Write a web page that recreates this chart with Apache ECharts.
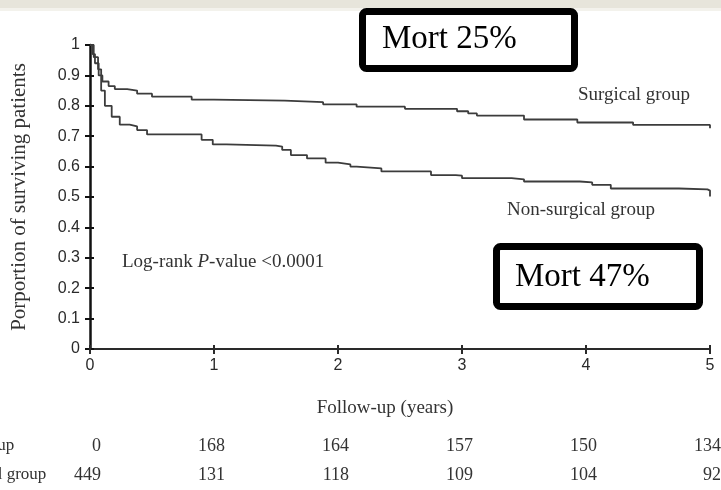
<!DOCTYPE html>
<html>
<head>
<meta charset="utf-8">
<script src="https://cdn.jsdelivr.net/npm/echarts@6/dist/echarts.min.js"></script>
<style>
  html, body { margin: 0; padding: 0; background: #ffffff; }
  #chart { width: 721px; height: 490px; }
</style>
</head>
<body>
<div id="chart"></div>
<script>
// Kaplan–Meier survival estimates: [follow-up in years, proportion surviving]
const surgicalCurve = [
  [0, 1.0], [0.02, 0.97], [0.04, 0.94], [0.07, 0.90], [0.10, 0.88],
  [0.15, 0.865], [0.20, 0.855], [0.30, 0.85], [0.38, 0.84], [0.50, 0.83],
  [0.82, 0.82], [1.00, 0.817], [1.57, 0.812], [1.88, 0.805], [2.15, 0.797],
  [2.54, 0.79], [2.96, 0.782], [3.05, 0.775], [3.12, 0.768], [3.50, 0.755],
  [3.93, 0.745], [4.38, 0.737], [5.0, 0.737], [5.0, 0.726]
];
const nonSurgicalCurve = [
  [0, 1.0], [0.03, 0.96], [0.065, 0.92], [0.09, 0.85], [0.12, 0.80],
  [0.175, 0.764], [0.24, 0.738], [0.32, 0.732], [0.38, 0.72], [0.46, 0.706],
  [0.83, 0.706], [0.90, 0.688], [0.99, 0.673], [1.10, 0.669], [1.50, 0.666],
  [1.55, 0.655], [1.62, 0.638], [1.75, 0.627], [1.90, 0.613], [2.00, 0.607],
  [2.10, 0.60], [2.15, 0.594], [2.35, 0.584], [2.70, 0.584], [2.75, 0.572],
  [2.95, 0.57], [3.00, 0.562], [3.40, 0.558], [3.50, 0.551], [3.95, 0.548],
  [4.05, 0.54], [4.20, 0.528], [4.73, 0.528], [4.75, 0.525], [4.98, 0.521],
  [5.0, 0.521], [5.0, 0.502]
];

// Numbers at risk at each yearly tick
const riskYears = [0, 1, 2, 3, 4, 5];
const surgicalAtRisk = [0, 168, 164, 157, 150, 134];
const nonSurgicalAtRisk = [449, 131, 118, 109, 104, 92];
const riskRowLabels = ['Surgical group', 'Non-surgical group'];

const curveLabels = ['Surgical group', 'Non-surgical group'];
const mortalityLabels = ['Mort 25%', 'Mort 47%'];
const xAxisTitle = 'Follow-up (years)';
const yAxisTitle = 'Porportion of surviving patients';

const serif = '"Liberation Serif", "Times New Roman", serif';
const sans = '"Liberation Sans", Arial, sans-serif';
const ink = '#3c3c3c';

const chart = echarts.init(document.getElementById('chart'), null, { renderer: 'canvas' });

const baseOption = {
  backgroundColor: '#ffffff',
  animation: false,
  grid: { left: 90, right: 11, top: 45, bottom: 141, containLabel: false },
  xAxis: [
    {
      type: 'value', min: 0, max: 5, interval: 1,
      axisLine: { show: true, lineStyle: { color: '#2a2a2a', width: 2 } },
      axisTick: { show: true, length: 5, lineStyle: { color: '#2a2a2a', width: 2 } },
      axisLabel: { color: '#2a2a2a', fontFamily: sans, fontSize: 16, margin: 9 },
      splitLine: { show: false },
      name: xAxisTitle, nameLocation: 'middle', nameGap: 50,
      nameTextStyle: { fontFamily: serif, fontSize: 19, color: '#333', padding: [0, 30, 0, 0] }
    },
    {
      type: 'value', min: 0, max: 5, interval: 1, position: 'bottom',
      axisLine: { show: false },
      axisTick: { show: true, inside: true, length: 4, lineStyle: { color: '#2a2a2a', width: 2 } },
      axisLabel: { show: false }, splitLine: { show: false }
    }
  ],
  yAxis: [
    {
      type: 'value', min: 0, max: 1, interval: 0.1,
      axisLine: { show: true, lineStyle: { color: '#111', width: 2.5 } },
      axisTick: { show: true, length: 5, lineStyle: { color: '#111', width: 2 } },
      axisLabel: { color: '#2a2a2a', fontFamily: sans, fontSize: 16, margin: 10 },
      splitLine: { show: false },
      name: yAxisTitle, nameLocation: 'middle', nameGap: 60, nameRotate: 90,
      nameTextStyle: { fontFamily: serif, fontSize: 21, color: '#333' }
    },
    {
      type: 'value', min: 0, max: 1, interval: 0.1, position: 'left',
      axisLine: { show: false },
      axisTick: { show: true, inside: true, length: 4, lineStyle: { color: '#111', width: 2 } },
      axisLabel: { show: false }, splitLine: { show: false }
    }
  ],
  series: [
    {
      name: curveLabels[0], type: 'line', step: 'end', showSymbol: false,
      xAxisIndex: 0, yAxisIndex: 0, data: surgicalCurve,
      lineStyle: { color: ink, width: 1.8 }, z: 3
    },
    {
      name: curveLabels[1], type: 'line', step: 'end', showSymbol: false,
      xAxisIndex: 0, yAxisIndex: 0, data: nonSurgicalCurve,
      lineStyle: { color: ink, width: 1.8 }, z: 3
    }
  ]
};
chart.setOption(baseOption);

// Positions for the number-at-risk table follow the x axis
const px = (t, v) => chart.convertToPixel({ xAxisIndex: 0, yAxisIndex: 0 }, [t, v]);
const riskText = [];
const rowY = [446, 475];
[surgicalAtRisk, nonSurgicalAtRisk].forEach((row, r) => {
  riskText.push({
    type: 'text', x: -86, y: rowY[r],
    style: { text: riskRowLabels[r], font: '17px ' + serif, fill: '#333', textAlign: 'left', textVerticalAlign: 'middle' }
  });
  row.forEach((n, i) => {
    const x = px(riskYears[i], 0)[0] + 11;
    riskText.push({
      type: 'text', x: x, y: rowY[r],
      style: { text: String(n), font: '18px ' + serif, fill: '#333', textAlign: 'right', textVerticalAlign: 'middle' }
    });
  });
});

function mortBox(x0, y0, x1, y1, label, tx, ty) {
  const lw = 7;
  return [
    {
      type: 'rect', z: 20,
      shape: { x: x0 + lw / 2, y: y0 + lw / 2, width: x1 - x0 - lw, height: y1 - y0 - lw, r: 4 },
      style: { fill: '#ffffff', stroke: '#000000', lineWidth: lw }
    },
    {
      type: 'text', z: 21, x: tx, y: ty,
      style: { text: label, font: '33px ' + serif, fill: '#000', textAlign: 'left', textVerticalAlign: 'middle' }
    }
  ];
}

chart.setOption({
  graphic: [
    // pale header strip
    { type: 'rect', z: 0, shape: { x: 0, y: 0, width: 721, height: 8 }, style: { fill: '#e7e5db' } },
    { type: 'rect', z: 0, shape: { x: 0, y: 8, width: 721, height: 3 }, style: { fill: '#f3f2ec' } },
    // curve labels
    { type: 'text', x: 578, y: 95, style: { text: curveLabels[0], font: '19px ' + serif, fill: '#333', textVerticalAlign: 'middle' } },
    { type: 'text', x: 507, y: 210, style: { text: curveLabels[1], font: '19px ' + serif, fill: '#333', textVerticalAlign: 'middle' } },
    // log-rank test result
    {
      type: 'text', x: 122, y: 262,
      style: {
        text: '{a|Log-rank }{i|P}{a|-value <0.0001}',
        textVerticalAlign: 'middle',
        rich: {
          a: { fontFamily: serif, fontSize: 19, fill: '#333', color: '#333' },
          i: { fontFamily: serif, fontSize: 19, fontStyle: 'italic', fill: '#333', color: '#333' }
        }
      }
    },
    ...mortBox(359, 8, 578, 72, mortalityLabels[0], 382, 39),
    ...mortBox(493, 243, 703, 310, mortalityLabels[1], 515, 277),
    ...riskText
  ]
});
</script>
</body>
</html>
